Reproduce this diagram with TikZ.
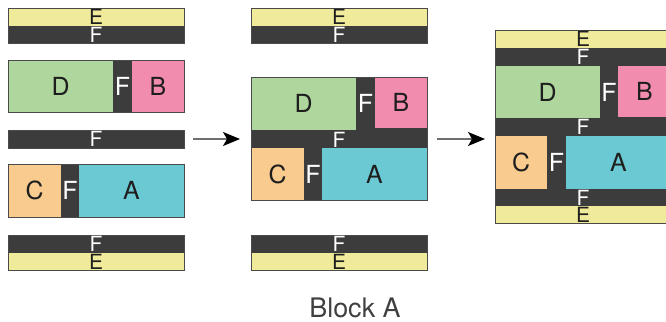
\documentclass[tikz,border=0pt]{standalone}
\usepackage{fontspec}
\setmainfont{TeX Gyre Heros}
\usetikzlibrary{arrows.meta}
\definecolor{dk}{HTML}{3C3C3C}
\definecolor{yel}{HTML}{F0EB9B}
\definecolor{grn}{HTML}{AED69D}
\definecolor{pnk}{HTML}{F28CAE}
\definecolor{org}{HTML}{F9CB8F}
\definecolor{tea}{HTML}{6BC9D3}
\definecolor{txt}{HTML}{1E1E1E}
\definecolor{edge}{HTML}{4A4A4A}
\definecolor{arrowgray}{HTML}{6E6E6E}
\tikzset{
 box/.style={draw=none, inner sep=0pt, outer sep=0pt, anchor=north west, rectangle},
 lab/.style={font=\fontsize{25}{25}\selectfont, inner sep=0pt, text=txt},
 flab/.style={lab, text=white},
 slab/.style={font=\fontsize{21}{21}\selectfont, inner sep=0pt, text=txt},
 sflab/.style={slab, text=white},
 frame/.style={draw=edge, line width=0.8bp},
 arr/.style={draw=arrowgray, line width=1.3bp, -{Stealth[length=17bp,width=14bp,inset=4bp,color=black]}},
}
\newcommand\bx[6]{\node[box,fill=#2,minimum width=#5bp,minimum height=#6bp] (#1) at (#3,#4) {};}
\begin{document}
\begin{tikzpicture}[x=1bp,y=-1bp]
\useasboundingbox (0,0) rectangle (666,321);
% ---------- left column ----------
\bx{lE1}{yel}{8}{8}{176}{18}
\bx{lF1}{dk}{8}{26}{176}{17}
\draw[frame] (lE1.north west) rectangle (lF1.south east);
\node[slab] (tlE1) at (lE1) {E};
\node[sflab] (tlF1) at (lF1) {F};

\bx{lD}{grn}{8}{60}{105}{52}
\bx{lFdb}{dk}{113}{60}{19}{52}
\bx{lB}{pnk}{132}{60}{52}{52}
\draw[frame] (lD.north west) rectangle (lB.south east);
\node[lab] (tlD) at (lD) {D};
\node[flab] (tlFdb) at (lFdb) {F};
\node[lab] (tlB) at (lB) {B};

\bx{lF2}{dk}{8}{130}{176}{18}
\draw[frame] (lF2.north west) rectangle (lF2.south east);
\node[sflab] (tlF2) at (lF2) {F};

\bx{lC}{org}{8}{164}{53}{53}
\bx{lFca}{dk}{61}{164}{18}{53}
\bx{lA}{tea}{79}{164}{105}{53}
\draw[frame] (lC.north west) rectangle (lA.south east);
\node[lab] (tlC) at (lC) {C};
\node[flab] (tlFca) at (lFca) {F};
\node[lab] (tlA) at (lA) {A};

\bx{lF3}{dk}{8}{235}{176}{18}
\bx{lE2}{yel}{8}{253}{176}{17}
\draw[frame] (lF3.north west) rectangle (lE2.south east);
\node[sflab] (tlF3) at (lF3) {F};
\node[slab] (tlE2) at (lE2) {E};

% ---------- middle column ----------
\bx{mE1}{yel}{251}{8}{176}{18}
\bx{mF1}{dk}{251}{26}{176}{17}
\draw[frame] (mE1.north west) rectangle (mF1.south east);
\node[slab] (tmE1) at (mE1) {E};
\node[sflab] (tmF1) at (mF1) {F};

\bx{mbg}{dk}{251}{77}{176}{123}
\bx{mD}{grn}{251}{77}{105}{53}
\bx{mB}{pnk}{375}{77}{52}{51}
\bx{mC}{org}{251}{148}{53}{52}
\bx{mA}{tea}{322}{148}{105}{52}
\draw[frame] (mbg.north west) rectangle (mbg.south east);
\node[lab] (tmD) at (mD) {D};
\node[lab] (tmB) at (mB) {B};
\node[lab] (tmC) at (mC) {C};
\node[lab] (tmA) at (mA) {A};
\node[flab] (tmFdb) at (365.5,103.5) {F};
\node[sflab] (tmFmid) at (339,139.5) {F};
\node[flab] (tmFca) at (313,174) {F};

\bx{mF3}{dk}{251}{235}{176}{18}
\bx{mE2}{yel}{251}{253}{176}{17}
\draw[frame] (mF3.north west) rectangle (mE2.south east);
\node[sflab] (tmF3) at (mF3) {F};
\node[slab] (tmE2) at (mE2) {E};

% ---------- right block ----------
\bx{rbg}{dk}{495}{30}{176}{193}
\bx{rE1}{yel}{495}{30}{176}{18}
\bx{rD}{grn}{495}{66}{105}{52}
\bx{rB}{pnk}{618}{66}{53}{51}
\bx{rC}{org}{495}{136}{52}{53}
\bx{rA}{tea}{566}{136}{105}{53}
\bx{rE2}{yel}{495}{206}{176}{17}
\draw[frame] (rbg.north west) rectangle (rbg.south east);
\node[slab] (trE1) at (rE1) {E};
\node[sflab] (trF1) at (583,57) {F};
\node[lab] (trD) at (rD) {D};
\node[flab] (trFdb) at (609,92) {F};
\node[lab] (trB) at (rB) {B};
\node[sflab] (trF2) at (583,127) {F};
\node[lab] (trC) at (rC) {C};
\node[flab] (trFca) at (556.5,162.5) {F};
\node[lab] (trA) at (rA) {A};
\node[sflab] (trF3) at (583,197.5) {F};
\node[slab] (trE2) at (rE2) {E};

% ---------- arrows ----------
\coordinate (a1s) at (193,139);
\coordinate (a1e) at (240,139);
\coordinate (a2s) at (437,139);
\coordinate (a2e) at (485,139);
\draw[arr] (a1s) -- (a1e);
\draw[arr] (a2s) -- (a2e);

% ---------- caption ----------
\node[font=\fontsize{27}{27}\selectfont, anchor=base, inner sep=0pt, text=txt!85] (title) at (355,317) {Block A};
\end{tikzpicture}
\end{document}
